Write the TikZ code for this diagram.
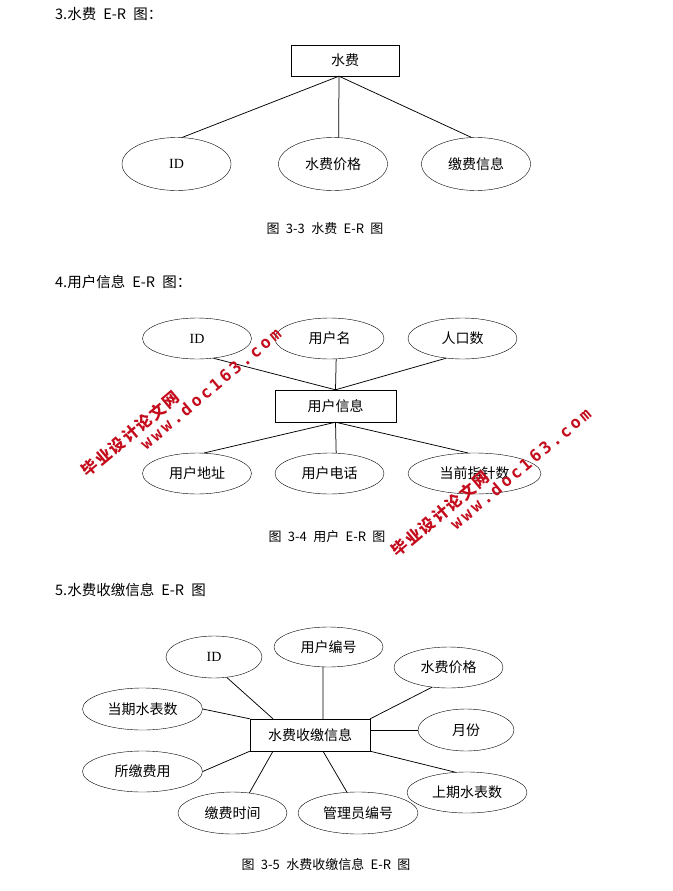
\documentclass[tikz,border=0pt]{standalone}
\usepackage{fontspec}
\setmainfont[WordSpace=2.2]{Noto Sans CJK SC}
\newfontfamily\idfont{Liberation Serif}
\newfontfamily\wmcjk[LetterSpace=10]{Noto Sans CJK SC}
\newfontfamily\wmlatin[LetterSpace=18]{DejaVu Sans Mono Bold}
\usepackage{tikz}
\usetikzlibrary{shapes.geometric}
\definecolor{wmred}{RGB}{196,12,28}

\begin{document}
\begin{tikzpicture}[x=1pt,y=-1pt,
    attr/.style={draw, ellipse, inner sep=0pt, minimum width=109pt, minimum height=41pt, font=\fontsize{14}{16}\selectfont},
    ent/.style={draw, rectangle, inner sep=0pt, minimum width=120pt, minimum height=32pt, font=\fontsize{14}{16}\selectfont},
    heading/.style={anchor=west, inner sep=0pt, font=\fontsize{14.5}{17}\selectfont},
    figcap/.style={inner sep=0pt, font=\fontsize{13}{15}\selectfont},
    link/.style={line width=0.75pt},
    wm/.style={text=wmred, rotate=40, inner sep=0pt}]
    % page
    \fill[white] (0,0) rectangle (672,891);
    \useasboundingbox (0,0) rectangle (672,891);

    % 3. water fee
    \node[heading] (t1) at (55,14) {3.水费 E-R 图：};
    \node[ent, minimum width=108pt, minimum height=31pt] (fee) at (345,60.5) {水费};
    \node[attr, minimum height=53pt] (fid) at (176.5,164) {\idfont ID};
    \node[attr, minimum height=53pt] (fprice) at (333,164) {水费价格};
    \node[attr, minimum height=53pt] (finfo) at (476,164) {缴费信息};
    \coordinate (feeb) at ([xshift=-6pt]fee.south);
    \draw[link] (feeb) -- (fid.78);
    \draw[link] (feeb) -- (fprice.78);
    \draw[link] (feeb) -- (finfo.100);
    \node[figcap] (c1) at (325,229) {图 3-3 水费 E-R 图};

    % 4. user
    \node[heading] (t2) at (55,281.5) {4.用户信息 E-R 图：};
    \node[attr] (uid) at (197,338.5) {\idfont ID};
    \node[attr] (uname) at (329.5,338.5) {用户名};
    \node[attr] (upop) at (462.5,338.5) {人口数};
    \node[ent, minimum width=121pt] (user) at (335.5,406) {用户信息};
    \node[attr] (uaddr) at (197,473.5) {用户地址};
    \node[attr] (utel) at (329.5,473.5) {用户电话};
    \node[attr, minimum width=133pt] (umeter) at (474.5,473.5) {当前指针数};
    \draw[link] (user.north) -- (uid.-50);
    \draw[link] (user.north) -- (uname.-72);
    \draw[link] (user.north) -- (upop.-130);
    \draw[link] (user.south) -- (uaddr.71);
    \draw[link] (user.south) -- (utel.72);
    \draw[link] (user.south) -- (umeter.108);
    \node[figcap] (c2) at (327,536.5) {图 3-4 用户 E-R 图};

    % 5. payment
    \node[heading] (t3) at (55,590) {5.水费收缴信息 E-R 图};
    \node[ent] (pay) at (310,735) {水费收缴信息};
    \node[attr, minimum width=96pt, minimum height=42pt] (pid) at (214,657) {\idfont ID};
    \node[attr, minimum height=40pt] (puser) at (328.5,647) {用户编号};
    \node[attr] (pprice) at (448.5,667.5) {水费价格};
    \node[attr, minimum width=120pt, minimum height=42pt] (pcur) at (142.5,709) {当期水表数};
    \node[attr, minimum width=96pt, minimum height=42pt] (pmonth) at (466,730) {月份};
    \node[attr, minimum width=120pt] (pfee) at (142.5,771.5) {所缴费用};
    \node[attr, minimum height=42pt] (ptime) at (232.5,813) {缴费时间};
    \node[attr, minimum width=120pt, minimum height=42pt] (padmin) at (358,813) {管理员编号};
    \node[attr, minimum width=120pt] (plast) at (467,792.5) {上期水表数};
    \draw[link] (pid.-58) -- ([xshift=-37pt]pay.north);
    \draw[link] (puser.-105) -- ([xshift=13pt]pay.north);
    \draw[link] (pprice.-130) -- (pay.north east);
    \draw[link] (pcur.east) -- (pay.north west);
    \draw[link] ([yshift=5pt]pay.east) -- (pmonth.west);
    \draw[link] (pfee.east) -- (pay.south west);
    \draw[link] (ptime.50) -- ([xshift=-37pt]pay.south);
    \draw[link] (padmin.118) -- ([xshift=13pt]pay.south);
    \draw[link] (plast.120) -- (pay.south east);
    \node[figcap] (c3) at (326,865) {图 3-5 水费收缴信息 E-R 图};

    % watermark
    \foreach \dx/\dy in {0/0,310/80} {
        \node[wm, font=\wmcjk\bfseries\fontsize{16}{16}\selectfont] (wa) at (130.5+\dx,434+\dy) {毕业设计论文网};
        \node[wm, font=\wmlatin\fontsize{16.5}{16.5}\selectfont] (wb) at (210.5+\dx,388.5+\dy) {www.doc163.com};
    }
\end{tikzpicture}
\end{document}
